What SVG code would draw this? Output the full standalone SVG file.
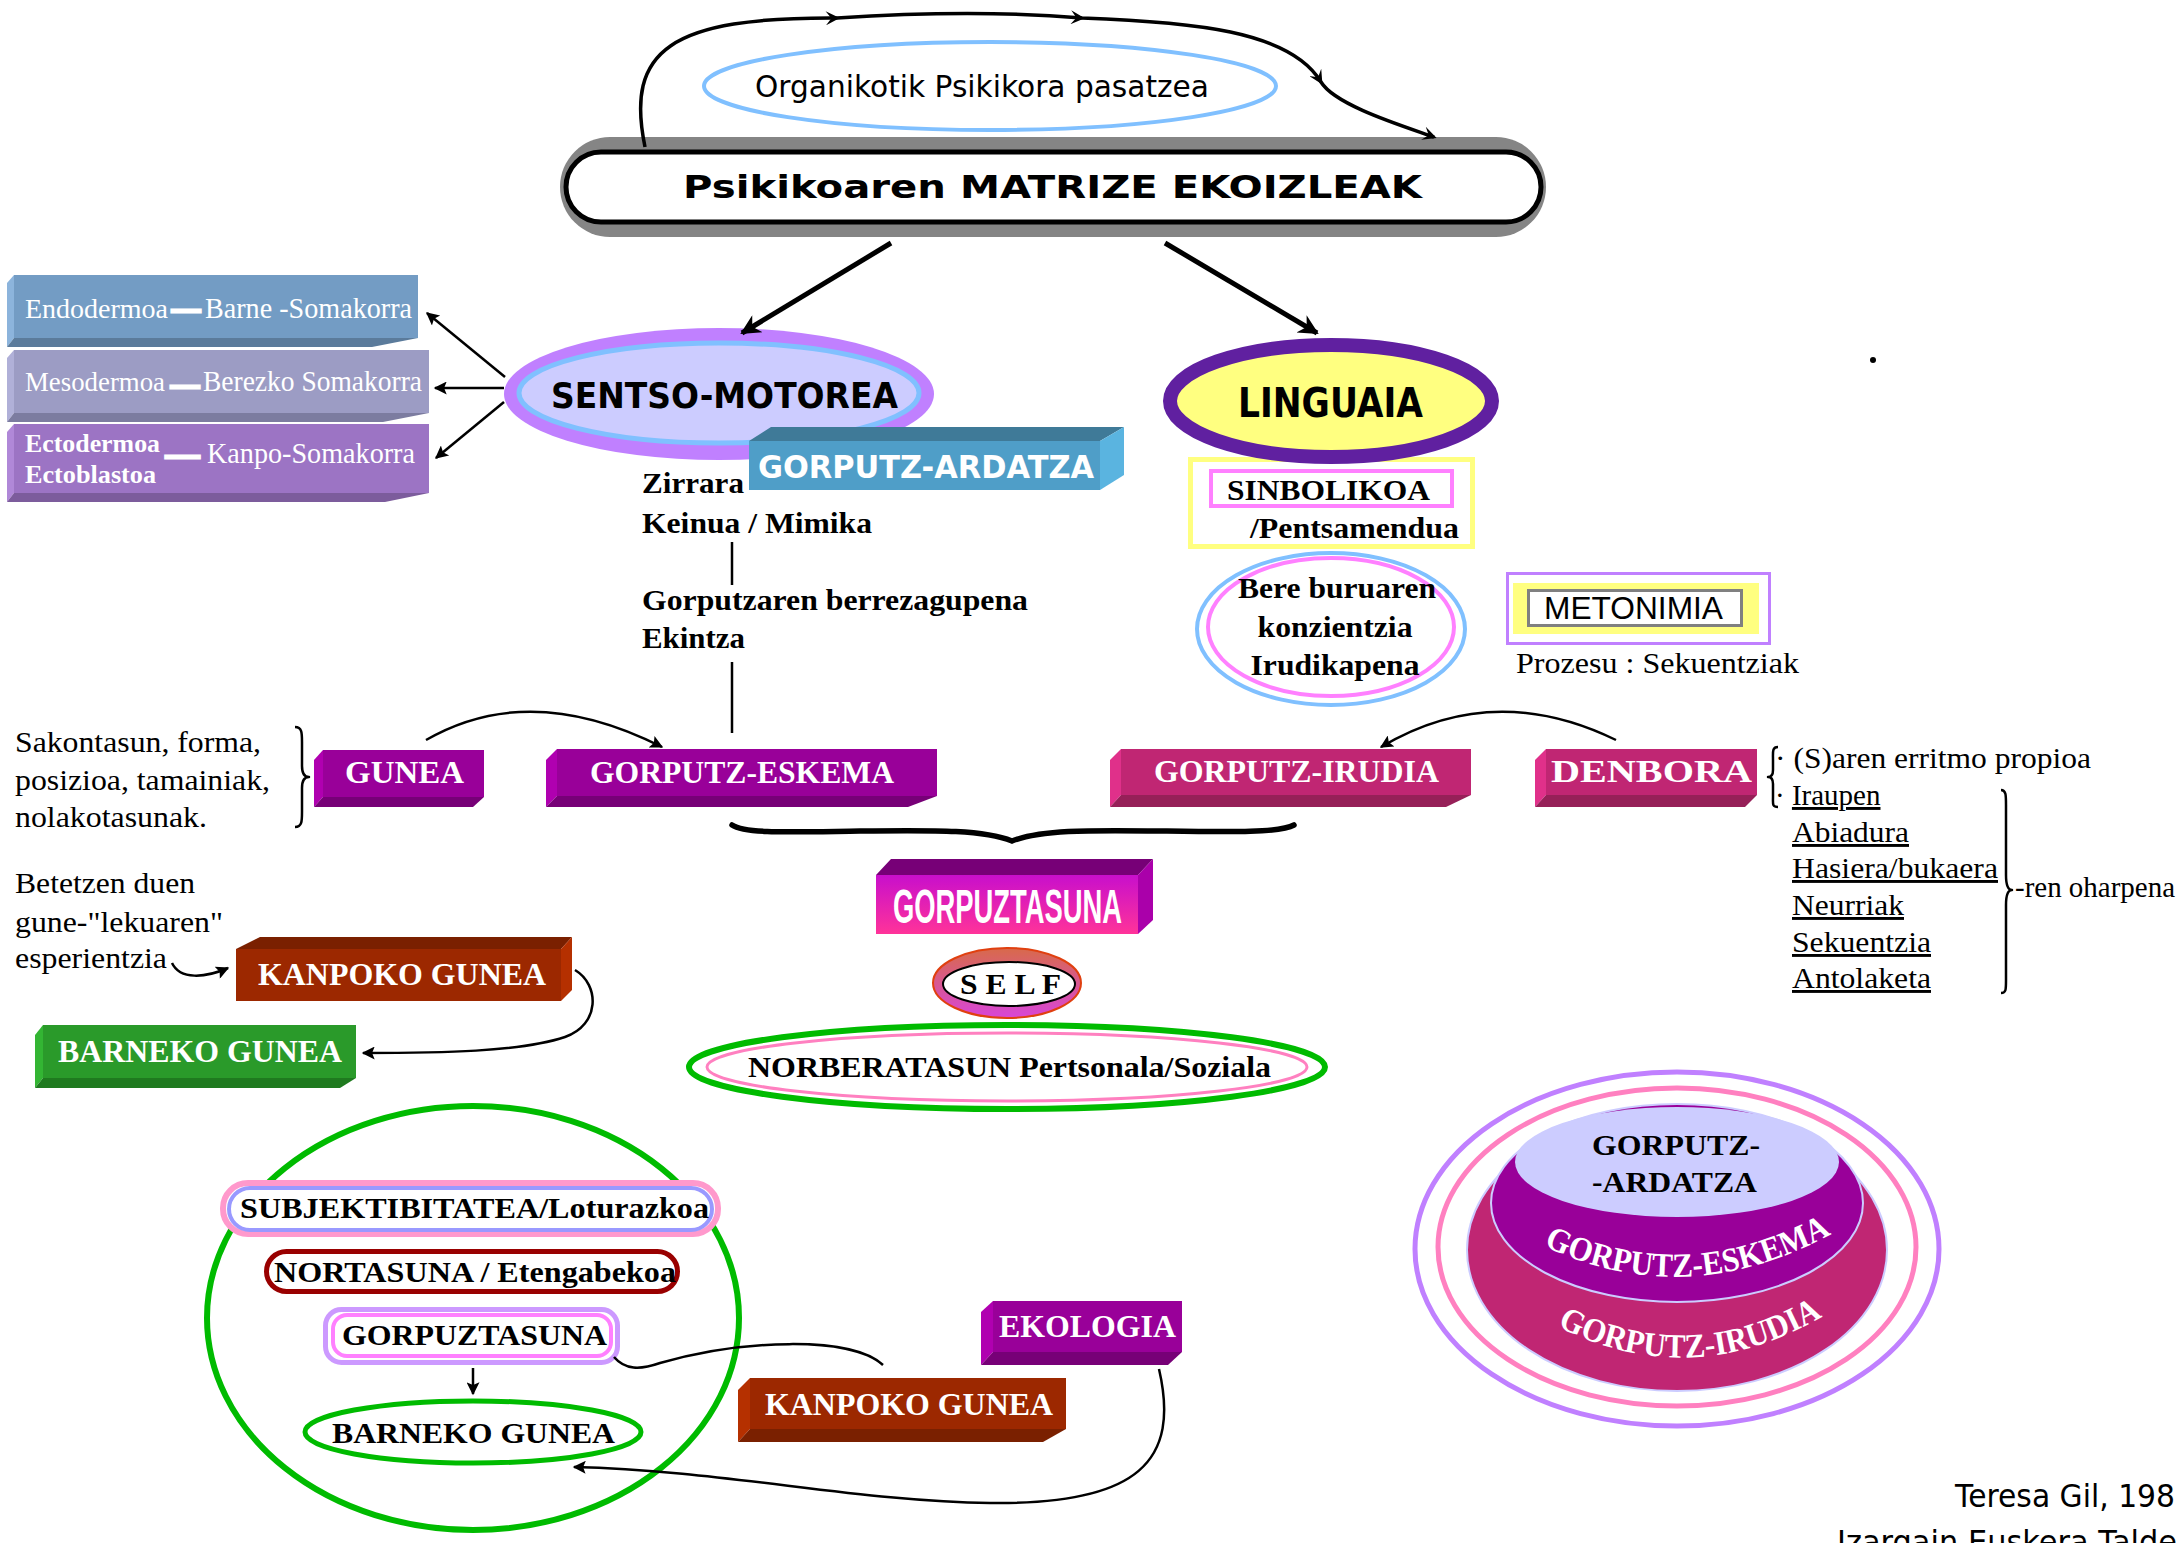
<svg xmlns="http://www.w3.org/2000/svg" width="2179" height="1543" viewBox="0 0 2179 1543">
<defs>
<style>
.s{font-family:"Liberation Serif","Times New Roman",serif}
.c{font-family:"DejaVu Sans",sans-serif}
.n{font-family:"Liberation Sans Narrow","Liberation Sans",sans-serif}
.a{font-family:"Liberation Sans",Arial,sans-serif}
.b{font-weight:bold}
.w{fill:#fff}
.ln{fill:none;stroke:#000;stroke-width:2.5}
.br{fill:none;stroke:#000;stroke-width:2.5;stroke-linejoin:round}
</style>
<marker id="a1" viewBox="0 0 10 10" refX="9" refY="5" markerWidth="16" markerHeight="13" markerUnits="userSpaceOnUse" orient="auto"><path d="M0,0 L10,5 L0,10 L2,5 z"/></marker>
<marker id="a2" viewBox="0 0 10 10" refX="9" refY="5" markerWidth="26" markerHeight="20" markerUnits="userSpaceOnUse" orient="auto"><path d="M0,0 L10,5 L0,10 L3,5 z"/></marker>
<marker id="a3" viewBox="0 0 10 10" refX="8" refY="5" markerWidth="18" markerHeight="14" markerUnits="userSpaceOnUse" orient="auto"><path d="M0,0 L10,5 L0,10 L4,5 z"/></marker>
<linearGradient id="gz" x1="0" y1="0" x2="0" y2="1"><stop offset="0" stop-color="#C80FCC"/><stop offset="1" stop-color="#FF3399"/></linearGradient>
<linearGradient id="gs" x1="0" y1="0" x2="0" y2="1"><stop offset="0" stop-color="#D86A4A"/><stop offset="1" stop-color="#D845D8"/></linearGradient>
<path id="arc1" d="M 1540 1244 Q 1685 1315 1835 1232"/>
<path id="arc2" d="M 1555 1325 Q 1690 1395 1825 1315"/>
</defs>
<rect width="2179" height="1543" fill="#fff"/>

<g id="organikotik">
<ellipse cx="990" cy="86" rx="286" ry="44" fill="#fff" stroke="#80C0FF" stroke-width="4"/>
<text x="755" y="97" class="c" font-size="30" textLength="454" lengthAdjust="spacingAndGlyphs">Organikotik Psikikora pasatzea</text>
</g>

<g id="matrize">
<rect x="560" y="137" width="986" height="100" rx="50" fill="#858585"/>
<rect x="566" y="152" width="975" height="70" rx="35" fill="#fff" stroke="#000" stroke-width="5"/>
<text x="683" y="198" class="c b" font-size="32" textLength="739" lengthAdjust="spacingAndGlyphs">Psikikoaren MATRIZE EKOIZLEAK</text>
</g>

<g id="endodermoa">
<rect x="14" y="275" width="404" height="63" fill="#739CC4"/>
<polygon points="7,283 14,275 14,338 7,347" fill="#8CB4DC"/>
<polygon points="7,347 14,338 418,338 372,347" fill="#5B7B9B"/>
<text x="25" y="318" class="s w" font-size="28" textLength="143" lengthAdjust="spacingAndGlyphs">Endodermoa</text>
<text x="172" y="317" class="s w b" font-size="28" stroke="#fff" stroke-width="3" textLength="28" lengthAdjust="spacingAndGlyphs">—</text>
<text x="205" y="318" class="s w" font-size="30" textLength="207" lengthAdjust="spacingAndGlyphs">Barne -Somakorra</text>
</g>
<g id="mesodermoa">
<rect x="14" y="350" width="415" height="63" fill="#9C9CC4"/>
<polygon points="7,358 14,350 14,413 7,422" fill="#B0B0D8"/>
<polygon points="7,422 14,413 429,413 383,422" fill="#7C7CA0"/>
<text x="25" y="391" class="s w" font-size="27" textLength="140" lengthAdjust="spacingAndGlyphs">Mesodermoa</text>
<text x="171" y="393" class="s w b" font-size="28" stroke="#fff" stroke-width="3" textLength="28" lengthAdjust="spacingAndGlyphs">—</text>
<text x="203" y="391" class="s w" font-size="30" textLength="219" lengthAdjust="spacingAndGlyphs">Berezko Somakorra</text>
</g>
<g id="ectodermoa">
<rect x="14" y="424" width="415" height="69" fill="#9C74C4"/>
<polygon points="7,432 14,424 14,493 7,502" fill="#B088D8"/>
<polygon points="7,502 14,493 429,493 385,502" fill="#7C5C9C"/>
<text x="25" y="452" class="s w b" font-size="26" textLength="135" lengthAdjust="spacingAndGlyphs">Ectodermoa</text>
<text x="25" y="483" class="s w b" font-size="26" textLength="131" lengthAdjust="spacingAndGlyphs">Ectoblastoa</text>
<text x="166" y="464" class="s w b" font-size="30" stroke="#fff" stroke-width="3" textLength="33" lengthAdjust="spacingAndGlyphs">—</text>
<text x="207" y="463" class="s w" font-size="29" textLength="208" lengthAdjust="spacingAndGlyphs">Kanpo-Somakorra</text>
</g>

<g id="sentso-motorea">
<ellipse cx="719" cy="394" rx="215" ry="66" fill="#C080FF"/>
<ellipse cx="719" cy="393" rx="200" ry="50" fill="#CCCCFF" stroke="#80C0FF" stroke-width="5"/>
<text x="551" y="408" class="c b" font-size="36" textLength="347" lengthAdjust="spacingAndGlyphs">SENTSO-MOTOREA</text>
</g>

<g id="gorputz-ardatza">
<rect x="749" y="441" width="351" height="49" fill="#4F9EC8"/>
<polygon points="749,441 771,427 1124,427 1100,441" fill="#3F7A98"/>
<polygon points="1100,441 1124,427 1124,475 1100,490" fill="#5AB4E0"/>
<text x="758" y="478" class="c b w" font-size="32" textLength="336" lengthAdjust="spacingAndGlyphs">GORPUTZ-ARDATZA</text>
</g>

<g id="zirrara">
<text x="642" y="493" class="s b" font-size="29" textLength="102" lengthAdjust="spacingAndGlyphs">Zirrara</text>
<text x="642" y="533" class="s b" font-size="29" textLength="230" lengthAdjust="spacingAndGlyphs">Keinua / Mimika</text>
<text x="642" y="610" class="s b" font-size="29" textLength="386" lengthAdjust="spacingAndGlyphs">Gorputzaren berrezagupena</text>
<text x="642" y="648" class="s b" font-size="29" textLength="103" lengthAdjust="spacingAndGlyphs">Ekintza</text>
</g>

<g id="sinbolikoa">
<rect x="1190.5" y="459.5" width="282" height="87" fill="none" stroke="#FFFF80" stroke-width="5"/>
<rect x="1211" y="471" width="241" height="35" fill="none" stroke="#FF80FF" stroke-width="4"/>
<text x="1227" y="500" class="s b" font-size="29" textLength="203" lengthAdjust="spacingAndGlyphs">SINBOLIKOA</text>
<text x="1250" y="538" class="s b" font-size="29" textLength="209" lengthAdjust="spacingAndGlyphs">/Pentsamendua</text>
</g>

<g id="linguaia">
<ellipse cx="1331" cy="401" rx="161" ry="56" fill="#FFFF80" stroke="#6020A0" stroke-width="14"/>
<text x="1238" y="417" class="c b" font-size="41" textLength="185" lengthAdjust="spacingAndGlyphs">LINGUAIA</text>
</g>

<g id="bere-buruaren">
<ellipse cx="1331" cy="629" rx="134" ry="76" fill="#fff" stroke="#80C0FF" stroke-width="4"/>
<ellipse cx="1331" cy="627" rx="123" ry="69" fill="none" stroke="#FF80FF" stroke-width="4"/>
<text x="1337" y="598" class="s b" font-size="29" text-anchor="middle" textLength="198" lengthAdjust="spacingAndGlyphs">Bere buruaren</text>
<text x="1335" y="637" class="s b" font-size="29" text-anchor="middle" textLength="155" lengthAdjust="spacingAndGlyphs">konzientzia</text>
<text x="1335" y="675" class="s b" font-size="29" text-anchor="middle" textLength="169" lengthAdjust="spacingAndGlyphs">Irudikapena</text>
</g>

<g id="metonimia">
<rect x="1507.5" y="573.5" width="262" height="70" fill="#fff" stroke="#C080FF" stroke-width="3"/>
<rect x="1513" y="583" width="246" height="51" fill="#FFFF80"/>
<rect x="1528.5" y="590.5" width="213" height="35" fill="#fff" stroke="#808080" stroke-width="3"/>
<text x="1544" y="619" class="a" font-size="31" textLength="179" lengthAdjust="spacingAndGlyphs">METONIMIA</text>
<text x="1516" y="673" class="s" font-size="29" textLength="283" lengthAdjust="spacingAndGlyphs">Prozesu : Sekuentziak</text>
</g>

<circle id="dot" cx="1873" cy="360" r="3" fill="#000"/>

<g id="sakontasun">
<text x="15" y="752" class="s" font-size="30" textLength="246" lengthAdjust="spacingAndGlyphs">Sakontasun, forma,</text>
<text x="15" y="790" class="s" font-size="30" textLength="255" lengthAdjust="spacingAndGlyphs">posizioa, tamainiak,</text>
<text x="15" y="827" class="s" font-size="30" textLength="192" lengthAdjust="spacingAndGlyphs">nolakotasunak.</text>
</g>

<g id="gunea">
<rect x="323" y="750" width="161" height="47" fill="#990099"/>
<polygon points="314,760 323,750 323,797 314,807" fill="#B000B0"/>
<polygon points="314,807 323,797 484,797 473,807" fill="#770077"/>
<text x="345" y="783" class="s b w" font-size="32" textLength="119" lengthAdjust="spacingAndGlyphs">GUNEA</text>
</g>

<g id="gorputz-eskema">
<rect x="557" y="749" width="380" height="47" fill="#990099"/>
<polygon points="546,760 557,749 557,796 546,807" fill="#B000B0"/>
<polygon points="546,807 557,796 937,796 908,807" fill="#770077"/>
<text x="590" y="783" class="s b w" font-size="32" textLength="304" lengthAdjust="spacingAndGlyphs">GORPUTZ-ESKEMA</text>
</g>

<g id="gorputz-irudia">
<rect x="1121" y="749" width="350" height="46" fill="#C02673"/>
<polygon points="1110,760 1121,749 1121,795 1110,807" fill="#E0308A"/>
<polygon points="1110,807 1121,795 1471,795 1446,807" fill="#962058"/>
<text x="1154" y="782" class="s b w" font-size="32" textLength="285" lengthAdjust="spacingAndGlyphs">GORPUTZ-IRUDIA</text>
</g>

<g id="denbora">
<rect x="1546" y="749" width="211" height="46" fill="#C02673"/>
<polygon points="1535,760 1546,749 1546,795 1535,807" fill="#E0308A"/>
<polygon points="1535,807 1546,795 1757,795 1745,807" fill="#962058"/>
<text x="1551" y="782" class="s b w" font-size="32" textLength="201" lengthAdjust="spacingAndGlyphs">DENBORA</text>
</g>

<g id="denbora-list">
<text x="1775" y="768" class="s" font-size="29" textLength="316" lengthAdjust="spacingAndGlyphs">· (S)aren erritmo propioa</text>
<text x="1775" y="805" class="s" font-size="29">· <tspan text-decoration="underline">Iraupen</tspan></text>
<text x="1792" y="842" class="s" font-size="29" text-decoration="underline" textLength="117" lengthAdjust="spacingAndGlyphs">Abiadura</text>
<text x="1792" y="878" class="s" font-size="29" text-decoration="underline" textLength="206" lengthAdjust="spacingAndGlyphs">Hasiera/bukaera</text>
<text x="1792" y="915" class="s" font-size="29" text-decoration="underline" textLength="112" lengthAdjust="spacingAndGlyphs">Neurriak</text>
<text x="1792" y="952" class="s" font-size="29" text-decoration="underline" textLength="139" lengthAdjust="spacingAndGlyphs">Sekuentzia</text>
<text x="1792" y="988" class="s" font-size="29" text-decoration="underline" textLength="139" lengthAdjust="spacingAndGlyphs">Antolaketa</text>
<text x="2015" y="897" class="s" font-size="29" textLength="160" lengthAdjust="spacingAndGlyphs">-ren oharpena</text>
</g>

<g id="gorpuztasuna">
<rect x="876" y="875" width="262" height="59" fill="url(#gz)"/>
<polygon points="876,875 891,859 1153,859 1138,875" fill="#770077"/>
<polygon points="1138,875 1153,859 1153,920 1138,934" fill="#AA00AA"/>
<text x="893" y="923" class="n b w" font-size="48" textLength="229" lengthAdjust="spacingAndGlyphs">GORPUZTASUNA</text>
</g>

<g id="self">
<ellipse cx="1007" cy="983" rx="74" ry="35" fill="url(#gs)" stroke="#E04010" stroke-width="2"/>
<ellipse cx="1009" cy="984" rx="66" ry="22" fill="#fff" stroke="#000" stroke-width="2"/>
<text x="960" y="994" class="s b" font-size="30" textLength="101" lengthAdjust="spacingAndGlyphs">S E L F</text>
</g>

<g id="norberatasun">
<ellipse cx="1007" cy="1067" rx="318" ry="42" fill="#fff" stroke="#00BB00" stroke-width="6"/>
<ellipse cx="1007" cy="1067" rx="300" ry="34" fill="none" stroke="#FF80C0" stroke-width="3"/>
<text x="748" y="1077" class="s b" font-size="30" textLength="523" lengthAdjust="spacingAndGlyphs">NORBERATASUN Pertsonala/Soziala</text>
</g>

<g id="betetzen">
<text x="15" y="893" class="s" font-size="30" textLength="180" lengthAdjust="spacingAndGlyphs">Betetzen duen</text>
<text x="15" y="932" class="s" font-size="30" textLength="208" lengthAdjust="spacingAndGlyphs">gune-"lekuaren"</text>
<text x="15" y="968" class="s" font-size="30" textLength="152" lengthAdjust="spacingAndGlyphs">esperientzia</text>
</g>

<g id="kanpoko-gunea-1">
<rect x="236" y="949" width="325" height="52" fill="#9C2800"/>
<polygon points="236,949 260,937 572,937 561,949" fill="#7A2000"/>
<polygon points="561,949 572,937 572,990 561,1001" fill="#B53000"/>
<text x="258" y="985" class="s b w" font-size="32" textLength="288" lengthAdjust="spacingAndGlyphs">KANPOKO GUNEA</text>
</g>

<g id="barneko-gunea-1">
<rect x="43" y="1025" width="313" height="53" fill="#2A9A2A"/>
<polygon points="35,1035 43,1025 43,1078 35,1088" fill="#33B533"/>
<polygon points="35,1088 43,1078 356,1078 340,1088" fill="#1F7A1F"/>
<text x="58" y="1062" class="s b w" font-size="32" textLength="284" lengthAdjust="spacingAndGlyphs">BARNEKO GUNEA</text>
</g>

<g id="subjektibitatea-group">
<ellipse cx="473" cy="1318" rx="266" ry="212" fill="none" stroke="#00BB00" stroke-width="6"/>
</g>
<g id="subjektibitatea">
<rect x="223" y="1183" width="495" height="51" rx="25" fill="#fff" stroke="#FF99CC" stroke-width="6"/>
<rect x="229" y="1188" width="483" height="42" rx="21" fill="none" stroke="#9999FF" stroke-width="4"/>
<text x="240" y="1218" class="s b" font-size="30" textLength="469" lengthAdjust="spacingAndGlyphs">SUBJEKTIBITATEA/Loturazkoa</text>
</g>
<g id="nortasuna">
<rect x="266.5" y="1251.5" width="411" height="40" rx="20" fill="#fff" stroke="#990000" stroke-width="5"/>
<text x="274" y="1282" class="s b" font-size="30" textLength="402" lengthAdjust="spacingAndGlyphs">NORTASUNA / Etengabekoa</text>
</g>
<g id="gorpuztasuna-2">
<rect x="325.5" y="1309.5" width="292" height="53" rx="16" fill="#fff" stroke="#CC99FF" stroke-width="5"/>
<rect x="333" y="1315" width="278" height="41" rx="14" fill="none" stroke="#FF80FF" stroke-width="4"/>
<text x="342" y="1345" class="s b" font-size="30" textLength="265" lengthAdjust="spacingAndGlyphs">GORPUZTASUNA</text>
</g>
<g id="barneko-gunea-2">
<ellipse cx="473" cy="1432" rx="168" ry="31" fill="#fff" stroke="#00BB00" stroke-width="5"/>
<text x="332" y="1443" class="s b" font-size="30" textLength="283" lengthAdjust="spacingAndGlyphs">BARNEKO GUNEA</text>
</g>

<g id="ekologia">
<rect x="993" y="1301" width="189" height="51" fill="#990099"/>
<polygon points="981,1312 993,1301 993,1352 981,1365" fill="#B000B0"/>
<polygon points="981,1365 993,1352 1182,1352 1168,1365" fill="#770077"/>
<text x="999" y="1337" class="s b w" font-size="32" textLength="177" lengthAdjust="spacingAndGlyphs">EKOLOGIA</text>
</g>

<g id="kanpoko-gunea-2">
<rect x="750" y="1378" width="316" height="51" fill="#9C2800"/>
<polygon points="738,1390 750,1378 750,1429 738,1442" fill="#B53000"/>
<polygon points="738,1442 750,1429 1066,1429 1043,1442" fill="#7A2000"/>
<text x="765" y="1415" class="s b w" font-size="32" textLength="288" lengthAdjust="spacingAndGlyphs">KANPOKO GUNEA</text>
</g>

<g id="layers">
<ellipse cx="1677" cy="1249" rx="262" ry="177" fill="#fff" stroke="#C080FF" stroke-width="5"/>
<ellipse cx="1677" cy="1247" rx="239" ry="159" fill="none" stroke="#FF80C0" stroke-width="5"/>
<ellipse cx="1677" cy="1250" rx="210" ry="141" fill="#C02673" stroke="#CCCCFF" stroke-width="2"/>
<ellipse cx="1677" cy="1203" rx="186" ry="99" fill="#990099" stroke="#CCCCFF" stroke-width="2"/>
<ellipse cx="1677" cy="1162" rx="162" ry="55" fill="#CCCCFF"/>
<text x="1592" y="1155" class="s b" font-size="30" textLength="168" lengthAdjust="spacingAndGlyphs">GORPUTZ-</text>
<text x="1592" y="1192" class="s b" font-size="30" textLength="165" lengthAdjust="spacingAndGlyphs">-ARDATZA</text>
<text class="s b w" font-size="34"><textPath href="#arc1" startOffset="50%" text-anchor="middle" textLength="300" lengthAdjust="spacingAndGlyphs">GORPUTZ-ESKEMA</textPath></text>
<text class="s b w" font-size="34"><textPath href="#arc2" startOffset="50%" text-anchor="middle" textLength="278" lengthAdjust="spacingAndGlyphs">GORPUTZ-IRUDIA</textPath></text>
</g>

<g id="credit">
<text x="1955" y="1507" class="c" font-size="32" textLength="220" lengthAdjust="spacingAndGlyphs">Teresa Gil, 198</text>
<text x="1837" y="1553" class="c" font-size="32" textLength="340" lengthAdjust="spacingAndGlyphs">Izargain Euskera Talde</text>
</g>

<g id="connectors">
<path d="M 645 147 C 625 50, 670 17, 837 18 C 930 12, 1010 12, 1082 18 C 1190 22, 1290 30, 1321 82 C 1335 105, 1400 125, 1434 137" fill="none" stroke="#000" stroke-width="3.5" marker-mid="url(#a3)" marker-end="url(#a3)"/>
<line x1="891" y1="243" x2="742" y2="333" stroke="#000" stroke-width="5" marker-end="url(#a2)"/>
<line x1="1165" y1="243" x2="1317" y2="333" stroke="#000" stroke-width="5" marker-end="url(#a2)"/>
<line x1="505" y1="377" x2="427" y2="313" class="ln" marker-end="url(#a1)"/>
<line x1="504" y1="388" x2="435" y2="388" class="ln" stroke-width="3.5" marker-end="url(#a1)"/>
<line x1="504" y1="402" x2="436" y2="458" class="ln" marker-end="url(#a1)"/>
<line x1="732" y1="542" x2="732" y2="585" class="ln" stroke-width="2"/>
<line x1="732" y1="662" x2="732" y2="733" class="ln" stroke-width="2"/>
<path d="M 426 740 Q 530 680 662 747" class="ln" marker-end="url(#a1)"/>
<path d="M 1616 740 Q 1493 680 1381 747" class="ln" marker-end="url(#a1)"/>
<path d="M 732 825 C 745 834, 790 832, 860 831 C 940 830, 985 830, 1012 841 C 1040 830, 1085 830, 1160 831 C 1230 832, 1280 833, 1294 825" fill="none" stroke="#000" stroke-width="5.5" stroke-linecap="round"/>
<path d="M 295 727 C 302 727, 302 733, 302 742 L 302 766 C 302 773, 304 777, 309 777 C 304 777, 302 781, 302 788 L 302 812 C 302 821, 302 827, 295 827" class="br"/>
<path d="M 1778 747 C 1772 747, 1773 752, 1773 760 L 1773 770 C 1773 775, 1771 777, 1768 777 C 1771 777, 1773 779, 1773 784 L 1773 797 C 1773 804, 1772 807, 1778 807" class="br" stroke-width="2"/>
<path d="M 2001 790 C 2006 790, 2006 795, 2006 805 L 2006 875 C 2006 885, 2008 890, 2012 890 C 2008 890, 2006 895, 2006 905 L 2006 980 C 2006 990, 2006 993, 2001 993" class="br" stroke-width="2"/>
<path d="M 172 963 C 180 980, 205 978, 228 968" class="ln" marker-end="url(#a1)"/>
<path d="M 575 970 C 600 985, 600 1025, 565 1037 C 520 1052, 440 1053, 363 1053" class="ln" marker-end="url(#a1)"/>
<line x1="473" y1="1368" x2="473" y2="1394" class="ln" stroke-width="2" marker-end="url(#a1)"/>
<path d="M 614 1357 C 625 1370, 640 1370, 660 1363 C 740 1340, 850 1335, 883 1365" class="ln"/>
<path d="M 1159 1369 C 1180 1460, 1140 1505, 990 1503 C 860 1502, 720 1470, 574 1467" class="ln" marker-end="url(#a1)"/>
</g>
</svg>
